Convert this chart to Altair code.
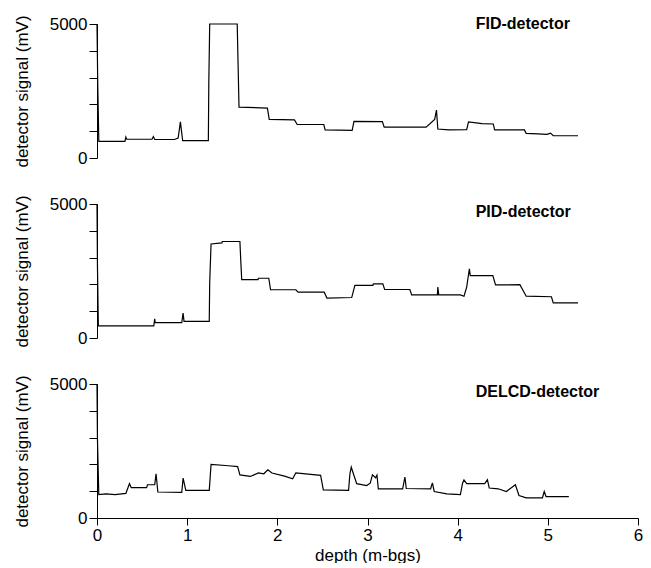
import altair as alt
import pandas as pd

# ---- data ----
fid_x = [0.0, 0.008, 0.02, 0.31, 0.32, 0.33, 0.61, 0.625, 0.64, 0.86, 0.90, 0.925, 0.95,
         1.235, 1.24, 1.25, 1.555, 1.565, 1.575, 1.89, 1.91, 2.19, 2.22, 2.515, 2.53,
         2.83, 2.85, 3.165, 3.185, 3.65, 3.745, 3.765, 3.78, 3.9, 4.10, 4.12, 4.27,
         4.395, 4.41, 4.74, 4.76, 4.89, 4.99, 5.03, 5.06, 5.335]
fid_y = [5000, 2800, 620, 620, 780, 700, 700, 800, 690, 690, 740, 1350, 650,
         650, 2800, 5000, 5000, 3450, 1900, 1860, 1440, 1420, 1250, 1250, 1050,
         1030, 1370, 1360, 1150, 1150, 1440, 1790, 1080, 1050, 1060, 1350, 1280,
         1270, 1050, 1050, 920, 900, 880, 930, 830, 830]

pid_x = [0.0, 0.005, 0.015, 0.63, 0.64, 0.645, 0.94, 0.955, 0.965, 1.245, 1.25, 1.265,
         1.385, 1.39, 1.585, 1.595, 1.605, 1.785, 1.79, 1.905, 1.925, 2.205, 2.23,
         2.52, 2.55, 2.825, 2.86, 3.06, 3.065, 3.17, 3.19, 3.47, 3.49, 3.775, 3.78,
         3.79, 4.03, 4.07, 4.10, 4.12, 4.13, 4.14, 4.39, 4.42, 4.69, 4.76, 5.04,
         5.06, 5.335]
pid_y = [5000, 2700, 450, 450, 720, 570, 570, 930, 620, 620, 2080, 3510,
         3550, 3600, 3600, 2850, 2180, 2180, 2230, 2230, 1800, 1800, 1710,
         1710, 1490, 1510, 1960, 1960, 2020, 2020, 1810, 1810, 1610, 1610, 1900,
         1610, 1610, 1560, 1900, 2360, 2580, 2330, 2330, 1980, 1990, 1560, 1540,
         1310, 1310]

delcd_x = [0.0, 0.005, 0.02, 0.10, 0.20, 0.32, 0.36, 0.38, 0.55, 0.56, 0.64, 0.655,
           0.675, 0.94, 0.955, 0.985, 1.245, 1.265, 1.46, 1.56, 1.585, 1.70, 1.79,
           1.85, 1.895, 1.94, 2.08, 2.17, 2.205, 2.48, 2.51, 2.79, 2.805, 2.82, 2.84,
           2.88, 2.99, 3.03, 3.055, 3.09, 3.105, 3.12, 3.39, 3.415, 3.43, 3.70, 3.72,
           3.74, 3.88, 4.03, 4.055, 4.07, 4.10, 4.30, 4.33, 4.35, 4.45, 4.54, 4.64,
           4.68, 4.76, 4.94, 4.96, 4.98, 5.233]
delcd_y = [5000, 2950, 870, 900, 870, 920, 1280, 1130, 1130, 1240, 1240, 1650,
           970, 960, 1490, 1030, 1030, 2000, 1950, 1920, 1610, 1550, 1680,
           1650, 1800, 1680, 1560, 1460, 1680, 1590, 1050, 1030, 1650, 1900, 1690,
           1280, 1210, 1300, 1610, 1500, 1600, 1090, 1090, 1530, 1100, 1090, 1310,
           990, 900, 870, 1310, 1420, 1280, 1280, 1430, 1120, 1090, 990, 1240,
           840, 750, 750, 990, 800, 800]

panel_labels = ["FID-detector", "PID-detector", "DELCD-detector"]
label_x = [4.2, 4.2, 4.2]
label_y = [5000, 4700, 4720]

x_ticks = [0, 1, 2, 3, 4, 5, 6]
y_ticks = [0, 1000, 2000, 3000, 4000, 5000]

FONT = "Liberation Sans"
W, H = 541, 134


def panel(xs, ys, label, lx, ly, bottom):
    df = pd.DataFrame({"depth": xs, "signal": ys, "idx": range(len(xs))})
    if bottom:
        xaxis = alt.Axis(values=x_ticks, format="d", title="depth (m-bgs)", tickSize=7,
                         labelFontSize=17, titleFontSize=17, labelPadding=2,
                         titlePadding=4, titleFontWeight="normal", grid=False,
                         labelOverlap=False, labelFlush=False)
    else:
        xaxis = None
    yaxis = alt.Axis(values=y_ticks, format="d", tickSize=8, labelPadding=2, ticks=True,
                     labelExpr="datum.value == 0 || datum.value == 5000 ? datum.label : ''",
                     labelFontSize=17, title="detector signal (mV)", titleFontSize=17,
                     titleFontWeight="normal", titlePadding=18, grid=False,
                     labelOverlap=False, labelFlush=False)
    xenc = alt.X("depth:Q", scale=alt.Scale(domain=[0, 6], nice=False), axis=xaxis)
    yenc = alt.Y("signal:Q", scale=alt.Scale(domain=[0, 5000], nice=False), axis=yaxis)
    line = alt.Chart(df).mark_line(color="black", strokeWidth=1.2).encode(
        x=xenc, y=yenc, order="idx:Q",
    )
    tdf = pd.DataFrame({"label": [label], "depth": [lx], "signal": [ly]})
    text = alt.Chart(tdf).mark_text(align="left", baseline="middle", fontSize=16,
                                    fontWeight="bold", font=FONT, color="black").encode(
        x=xenc, y=yenc, text="label:N",
    )
    return alt.layer(line, text).properties(width=W, height=H)


series = [(fid_x, fid_y), (pid_x, pid_y), (delcd_x, delcd_y)]
panels = [panel(series[i][0], series[i][1], panel_labels[i], label_x[i], label_y[i], i == 2)
          for i in range(3)]

chart = alt.vconcat(*panels, spacing=46, bounds="flush").properties(
    padding={"top": 6, "left": 5, "right": 0, "bottom": 0},
    background="white",
).configure_view(stroke=None).configure_axis(
    domainColor="black", tickColor="black", labelColor="black", titleColor="black",
    labelFont=FONT, titleFont=FONT, domainWidth=1, tickWidth=1
)

chart.save("out.html", embed_options={"renderer": "svg", "actions": False})
